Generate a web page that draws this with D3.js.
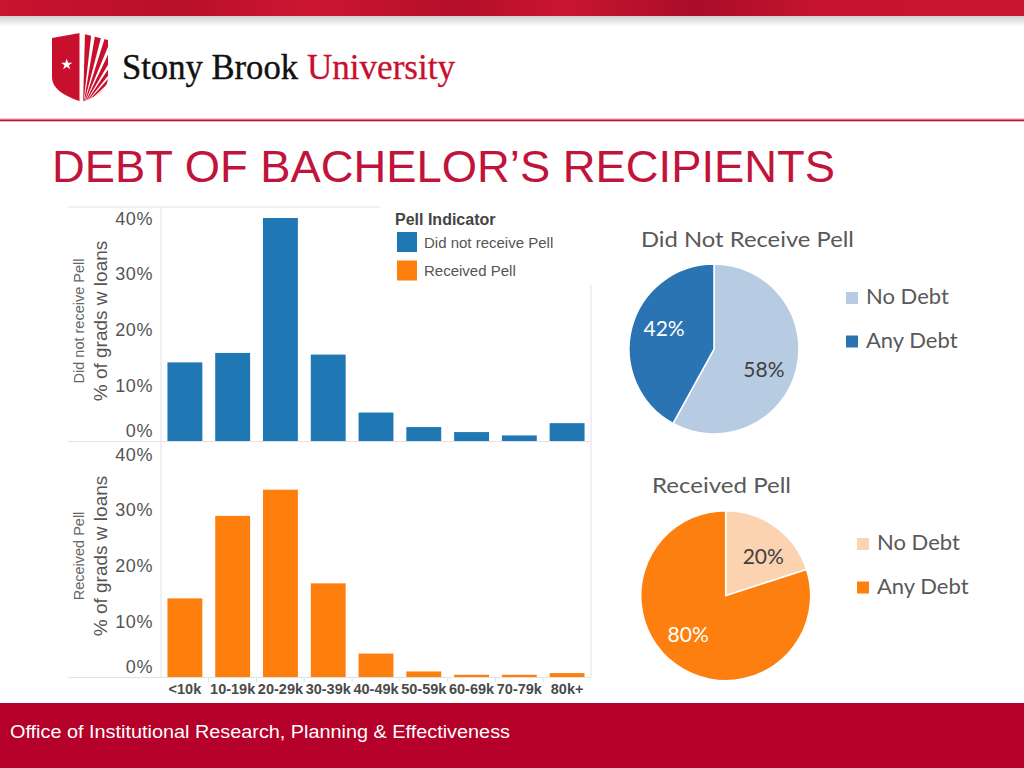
<!DOCTYPE html>
<html>
<head>
<meta charset="utf-8">
<script src="https://cdn.jsdelivr.net/npm/d3@7"></script>
<style>
  body { margin: 0; background: #fff; }
  text { font-family: "Liberation Sans", Arial, sans-serif; }
</style>
</head>
<body>
<script>
// debt bands on the x axis
const debtBands = ["<10k", "10-19k", "20-29k", "30-39k", "40-49k", "50-59k", "60-69k", "70-79k", "80k+"];
// % of grads with loans, by band
const notPellPct = [14.1, 15.8, 40.0, 15.5, 5.1, 2.5, 1.6, 1.0, 3.2];
const pellPct = [14.1, 28.9, 33.6, 16.8, 4.2, 1.0, 0.4, 0.4, 0.7];
const yTicks = [0, 10, 20, 30, 40];

// pies
const pieCategories = ["No Debt", "Any Debt"];
const notPellShare = [58, 42];
const pellShare = [20, 80];

const legendTitle = "Pell Indicator";
const groupNames = ["Did not receive Pell", "Received Pell"];

const svg = d3.select("body").append("svg")
    .attr("width", 1024)
    .attr("height", 768);

const defs = svg.append("defs");

// ---------- header ----------
const bandGrad = defs.append("linearGradient").attr("id", "band").attr("x1", 0).attr("x2", 1);
[["0", "#c8142f"], ["0.18", "#b80f2b"], ["0.3", "#cc1632"], ["0.45", "#b40e2a"], ["0.55", "#c91531"],
 ["0.68", "#a90d28"], ["0.8", "#c61430"], ["1", "#c8152f"]].forEach(s => {
    bandGrad.append("stop").attr("offset", s[0]).attr("stop-color", s[1]);
});
svg.append("rect").attr("x", 0).attr("y", 0).attr("width", 1024).attr("height", 16).attr("fill", "url(#band)");

const shadow = defs.append("linearGradient").attr("id", "shadow").attr("x1", 0).attr("x2", 0).attr("y1", 0).attr("y2", 1);
shadow.append("stop").attr("offset", "0").attr("stop-color", "#000").attr("stop-opacity", 0.18);
shadow.append("stop").attr("offset", "1").attr("stop-color", "#000").attr("stop-opacity", 0);
svg.append("rect").attr("x", 0).attr("y", 16).attr("width", 1024).attr("height", 11).attr("fill", "url(#shadow)");

// logo shield
const logo = svg.append("g").attr("transform", "translate(52,33)");
const shieldPath = "M0,5 L28,0 L56,7 L56,44 C56,57 44,64 30,69 C15,64 0,57 0,44 Z";
defs.append("clipPath").attr("id", "shield").append("path").attr("d", shieldPath);
const sg = logo.append("g").attr("clip-path", "url(#shield)");
sg.append("rect").attr("x", 0).attr("y", 0).attr("width", 27.5).attr("height", 70).attr("fill", "#c8102e");
const fx = 30, fy = 74;
for (let k = 0; k < 8; k++) {
    const a0 = (2 + k * 8) * Math.PI / 180, a1 = a0 + 5 * Math.PI / 180;
    const L = 120;
    sg.append("path")
        .attr("d", `M${fx + 1},${fy} L${fx + L * Math.sin(a0)},${fy - L * Math.cos(a0)} L${fx + L * Math.sin(a1)},${fy - L * Math.cos(a1)} Z`)
        .attr("fill", "#c8102e");
}
logo.append("path")
    .attr("d", d3.symbol(d3.symbolStar, 40)())
    .attr("transform", "translate(14.7,31.5)")
    .attr("fill", "#fff");

svg.append("text").attr("x", 122).attr("y", 79)
    .style("font-family", "'Liberation Serif', 'DejaVu Serif', serif")
    .attr("font-size", 36).attr("fill", "#111")
    .attr("stroke", "#111").attr("stroke-width", 0.4)
    .attr("textLength", 176).attr("lengthAdjust", "spacingAndGlyphs")
    .text("Stony Brook");
svg.append("text").attr("x", 307).attr("y", 79)
    .style("font-family", "'Liberation Serif', 'DejaVu Serif', serif")
    .attr("font-size", 36).attr("fill", "#c8102e")
    .attr("stroke", "#c8102e").attr("stroke-width", 0.3)
    .attr("textLength", 148).attr("lengthAdjust", "spacingAndGlyphs")
    .text("University");

svg.append("rect").attr("x", 0).attr("y", 118.5).attr("width", 1024).attr("height", 1).attr("fill", "#f0a0ae");
svg.append("rect").attr("x", 0).attr("y", 119.5).attr("width", 1024).attr("height", 1.8).attr("fill", "#c0102e");

svg.append("text").attr("x", 52).attr("y", 182)
    .attr("font-size", 45).attr("fill", "#c0143a")
    .attr("textLength", 783).attr("lengthAdjust", "spacingAndGlyphs")
    .text("DEBT OF BACHELOR\u2019S RECIPIENTS");

// ---------- bar panels ----------
const x = d3.scaleBand()
    .domain(debtBands)
    .range([161, 591])
    .paddingInner(0.27)
    .paddingOuter(0.135);

const panels = [
    { name: groupNames[0], values: notPellPct, color: "#1f77b4", zero: 441, mid: 321 },
    { name: groupNames[1], values: pellPct, color: "#ff7f0e", zero: 677, mid: 556 }
];

const frame = "#e2e2e2";
svg.append("line").attr("x1", 68).attr("x2", 591).attr("y1", 207).attr("y2", 207).attr("stroke", frame);
svg.append("line").attr("x1", 161).attr("x2", 161).attr("y1", 207).attr("y2", 677).attr("stroke", frame);
svg.append("line").attr("x1", 591).attr("x2", 591).attr("y1", 207).attr("y2", 677).attr("stroke", frame);

panels.forEach(p => {
    const y = d3.scaleLinear().domain([0, 40]).range([p.zero, p.zero - 223]);
    const g = svg.append("g");

    g.append("line").attr("x1", 68).attr("x2", 591).attr("y1", p.zero + 0.5).attr("y2", p.zero + 0.5).attr("stroke", frame);

    g.selectAll("rect.bar").data(p.values).join("rect")
        .attr("class", "bar")
        .attr("x", (d, i) => x(debtBands[i]))
        .attr("width", x.bandwidth())
        .attr("y", d => y(d))
        .attr("height", d => y(0) - y(d))
        .attr("fill", p.color);

    const ax = g.append("g").attr("transform", "translate(161,0)")
        .call(d3.axisLeft(y).tickValues(yTicks).tickFormat(d => d + "%").tickSize(0).tickPadding(8));
    ax.select(".domain").remove();
    ax.selectAll("text")
        .style("font-family", "'Liberation Sans', Arial, sans-serif")
        .attr("font-size", 18).attr("fill", "#555").attr("letter-spacing", 0.6)
        .attr("dy", d => d === 0 ? "-0.25em" : "0.34em");

    g.append("text")
        .attr("transform", `translate(80,${p.mid}) rotate(-90)`)
        .attr("text-anchor", "middle").attr("dominant-baseline", "middle")
        .attr("font-size", 14.5).attr("fill", "#666")
        .text(p.name);
    g.append("text")
        .attr("transform", `translate(102,${p.mid}) rotate(-90)`)
        .attr("text-anchor", "middle").attr("dominant-baseline", "middle")
        .attr("font-size", 19).attr("fill", "#555")
        .text("% of grads w loans");
});

// x-axis labels and small ticks on the bottom panel
const step = x.step(), gap = step - x.bandwidth();
svg.selectAll("line.xtick").data(debtBands.slice(1)).join("line")
    .attr("class", "xtick")
    .attr("x1", d => x(d) - gap / 2).attr("x2", d => x(d) - gap / 2)
    .attr("y1", 677).attr("y2", 682)
    .attr("stroke", frame);
svg.selectAll("text.xlab").data(debtBands).join("text")
    .attr("class", "xlab")
    .attr("x", d => x(d) + x.bandwidth() / 2)
    .attr("y", 694)
    .attr("text-anchor", "middle")
    .attr("font-size", 14.5).attr("font-weight", "bold").attr("fill", "#4a4a4a")
    .text(d => d);

// legend box (covers frame)
svg.append("rect").attr("x", 380).attr("y", 200).attr("width", 216).attr("height", 85).attr("fill", "#fff");
svg.append("text").attr("x", 395).attr("y", 225)
    .attr("font-size", 16).attr("font-weight", "bold").attr("fill", "#444")
    .text(legendTitle);
const lg = svg.selectAll("g.lg").data(panels).join("g")
    .attr("class", "lg")
    .attr("transform", (d, i) => `translate(397,${232 + i * 28.5})`);
lg.append("rect").attr("width", 20).attr("height", 20).attr("fill", d => d.color);
lg.append("text").attr("x", 27).attr("y", 15.5)
    .attr("font-size", 15).attr("fill", "#555")
    .text(d => d.name);

// ---------- pies ----------
const pies = [
    { title: "Did Not Receive Pell", values: notPellShare, colors: ["#b7cbe3", "#2b74b3"], labelColors: ["#404040", "#fff"],
      cx: 714, cy: 349, tx: 641, ty: 247, tlen: 213, lx: 846, ly: 292 },
    { title: "Received Pell", values: pellShare, colors: ["#fbd3b1", "#fd7f0f"], labelColors: ["#404040", "#fff"],
      cx: 725.7, cy: 595.7, tx: 652, ty: 493, tlen: 139, lx: 857, ly: 538 }
];

const pie = d3.pie().sort(null).value(d => d);
const arc = d3.arc().innerRadius(0).outerRadius(85);
const labelArc = d3.arc().innerRadius(54).outerRadius(54);
const pieFont = "Lato, 'Open Sans', sans-serif";

pies.forEach(p => {
    const g = svg.append("g").attr("transform", `translate(${p.cx},${p.cy})`);
    const arcs = pie(p.values);
    g.selectAll("path").data(arcs).join("path")
        .attr("d", arc)
        .attr("fill", (d, i) => p.colors[i])
        .attr("stroke", "#fff").attr("stroke-width", 1.5);
    // labels sit a little clockwise of the slice middle, as in the source
    g.selectAll("text").data(arcs).join("text")
        .attr("transform", d => {
            const shift = 0.14;
            return `translate(${labelArc.centroid({ startAngle: d.startAngle + shift, endAngle: d.endAngle + shift })})`;
        })
        .attr("text-anchor", "middle").attr("dy", "0.36em")
        .style("font-family", pieFont)
        .attr("font-size", 21).attr("fill", (d, i) => p.labelColors[i])
        .text(d => d.data + "%");

    svg.append("text").attr("x", p.tx).attr("y", p.ty)
        .style("font-family", pieFont)
        .attr("font-size", 22).attr("fill", "#595959")
        .attr("textLength", p.tlen).attr("lengthAdjust", "spacingAndGlyphs")
        .text(p.title);

    const lg2 = svg.selectAll(null).data(pieCategories).join("g")
        .attr("transform", (d, i) => `translate(${p.lx},${p.ly + i * 43.5})`);
    lg2.append("rect").attr("width", 12).attr("height", 12).attr("fill", (d, i) => p.colors[i]);
    lg2.append("text").attr("x", 20).attr("y", 12)
        .style("font-family", pieFont)
        .attr("font-size", 22).attr("fill", "#595959")
        .text(d => d);
});

// ---------- footer ----------
svg.append("rect").attr("x", 0).attr("y", 703).attr("width", 1024).attr("height", 65).attr("fill", "#b5002a");
svg.append("text").attr("x", 10).attr("y", 738)
    .attr("font-size", 17.5).attr("fill", "#fff")
    .attr("textLength", 500).attr("lengthAdjust", "spacingAndGlyphs")
    .text("Office of Institutional Research, Planning & Effectiveness");
</script>
</body>
</html>
